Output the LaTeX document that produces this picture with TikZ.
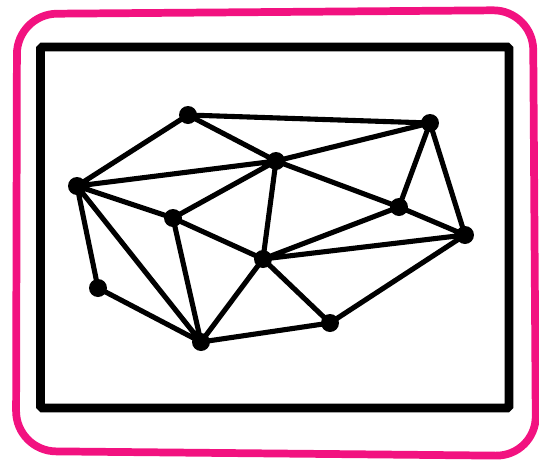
\documentclass[tikz,border=0pt]{standalone}
\usepackage{xcolor}
\usepackage{tikz}
\definecolor{crayon}{RGB}{242,18,128}

\begin{document}
\begin{tikzpicture}[x=0.02cm,y=-0.02cm,
dot/.style={circle,fill=black,inner sep=0pt,minimum size=0.36cm},
edge/.style={line width=2.9pt}]
\useasboundingbox (0,0) rectangle (539,464);
% hand drawn frame
\draw[crayon,line width=4.4pt,rounded corners=0.8cm]
(17,14)--(533,10)--(536,456)--(16,451)--cycle;
\draw[line width=5pt,rounded corners=1pt](40.5,47)rectangle(509,408);
% vertices
\node[dot] (a) at (188,115) {};
\node[dot] (b) at (430,123) {};
\node[dot] (c) at (276,161) {};
\node[dot] (d) at (77,186) {};
\node[dot] (e) at (173,218) {};
\node[dot] (f) at (399,207) {};
\node[dot] (g) at (465,235) {};
\node[dot] (h) at (263,259) {};
\node[dot] (i) at (98,288) {};
\node[dot] (j) at (330,323) {};
\node[dot] (k) at (201,342) {};
% edges
\draw[edge](a.center)--(b.center)
(a.center)--(c.center)
(a.center)--(d.center)
(d.center)--(c.center)
(d.center)--(e.center)
(d.center)--(i.center)
(d.center)--(k.center)
(c.center)--(e.center)
(c.center)--(h.center)
(c.center)--(f.center)
(c.center)--(b.center)
(b.center)--(f.center)
(b.center)--(g.center)
(e.center)--(h.center)
(e.center)--(k.center)
(h.center)--(f.center)
(h.center)--(g.center)
(h.center)--(k.center)
(h.center)--(j.center)
(f.center)--(g.center)
(g.center)--(j.center)
(j.center)--(k.center)
(i.center)--(k.center);
\end{tikzpicture}
\end{document}
